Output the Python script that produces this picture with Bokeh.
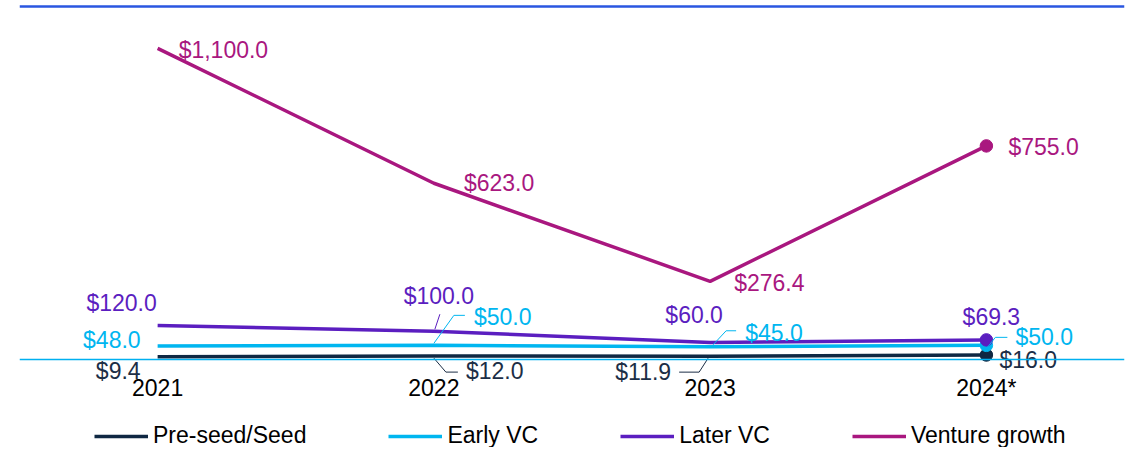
from bokeh.plotting import figure
from bokeh.models import Range1d, FixedTicker, Span, Legend, LegendItem
from bokeh.embed import file_html
from bokeh.resources import INLINE
from bokeh.core.properties import value

# ---------------- data ----------------
years = ["2021", "2022", "2023", "2024*"]
seed = [9.4, 12.0, 11.9, 16.0]
early_vc = [48.0, 50.0, 45.0, 50.0]
later_vc = [120.0, 100.0, 60.0, 69.3]
venture_growth = [1100.0, 623.0, 276.4, 755.0]
series_names = ["Pre-seed/Seed", "Early VC", "Later VC", "Venture growth"]

# ---------------- style ----------------
FONT = "Liberation Sans"
FS = "23px"
colors = ["#0f2843", "#00b6f0", "#5b1ec0", "#a9177f"]
label_colors = ["#1c2e46", "#00b6f0", "#5b1ec0", "#a9177f"]
FRAME_TOP, ZERO_Y, FRAME_BOTTOM = 3, 359, 447   # screen rows
PX_PER_UNIT = 0.2829
FRAME_W = 1105
FRAME_H = FRAME_BOTTOM - FRAME_TOP
Y_END = (ZERO_Y - FRAME_TOP) / PX_PER_UNIT
Y_START = -(FRAME_BOTTOM - ZERO_Y) / PX_PER_UNIT
RULE_Y = (ZERO_Y - 6) / PX_PER_UNIT
XPX = FRAME_W / 4.0
YPX = PX_PER_UNIT
LEGEND_BOTTOM_OFFSET = -2

# label placement per series/point: (dx px, dy px (down), align)
label_pos = [
    [(-17, 14, "right"), (32, 15, "left"), (-39, 16, "right"), (13, 5, "left")],
    [(-17, -6, "right"), (40, -28, "left"), (35, -14, "left"), (29, -8, "left")],
    [(-36, -23, "center"), (5, -35, "center"), (-16, -28, "center"), (5, -23, "center")],
    [(21, 2, "left"), (30, 0, "left"), (24, 2, "left"), (22, 1, "left")],
]
# leader lines: (series index, point index, knees in px offsets)
leaders = [
    (2, 1, [(1, -2), (6, -17)]),
    (1, 1, [(0, -2), (20, -30), (31, -30)]),
    (1, 2, [(3, -2), (16, -16), (26, -16)]),
    (1, 3, [(1, 2), (9, -8), (21, -8)]),
    (0, 1, [(0, 2), (12, 16), (24, 16)]),
    (0, 2, [(-2, 2), (-11, 16), (-31, 16)]),
]

p = figure(frame_width=FRAME_W, frame_height=FRAME_H, output_backend="svg", toolbar_location=None,
           x_range=Range1d(-0.5, 3.5), y_range=Range1d(Y_START, Y_END),
           min_border_left=19, min_border_right=18, min_border_top=FRAME_TOP, min_border_bottom=0)
p.outline_line_color = None
p.grid.visible = False
p.yaxis.visible = False
p.background_fill_color = "white"
p.border_fill_color = "white"

xs = list(range(len(years)))
p.xaxis.fixed_location = 0
p.xaxis.ticker = FixedTicker(ticks=xs)
p.xaxis.major_label_overrides = {i: y for i, y in enumerate(years)}
p.xaxis.major_label_text_font = FONT
p.xaxis.major_label_text_font_size = FS
p.xaxis.major_label_text_color = "#000000"
p.xaxis.major_tick_line_color = None
p.xaxis.minor_tick_line_color = None
p.xaxis.axis_line_color = None
p.xaxis.major_label_standoff = 9

# top blue rule and teal zero line
p.add_layout(Span(location=RULE_Y, dimension="width", line_color="#2a56e0", line_width=2.5))
p.add_layout(Span(location=0, dimension="width", line_color="#00b0f0", line_width=1.5))

all_series = [seed, early_vc, later_vc, venture_growth]
renderers = []
for si, vals in enumerate(all_series):
    r = p.line(xs, vals, line_color=colors[si], line_width=3.5)
    renderers.append(r)

for si, vals in enumerate(all_series):
    p.scatter([xs[-1]], [vals[-1]], size=12.5, fill_color=colors[si], line_color=colors[si])

# leader lines
for si, pi, knees in leaders:
    x0, y0 = xs[pi], all_series[si][pi]
    lx = [x0 + dx / XPX for dx, dy in knees]
    ly = [y0 - dy / YPX for dx, dy in knees]
    p.line(lx, ly, line_color=label_colors[si], line_width=1)

# data labels
for si, vals in enumerate(all_series):
    for pi, v in enumerate(vals):
        dx, dy, align = label_pos[si][pi]
        p.text(x=[xs[pi]], y=[v], text=["${:,.1f}".format(v)], x_offset=dx, y_offset=dy,
               text_align=align, text_baseline="middle", text_font=value(FONT),
               text_font_size=FS, text_color=label_colors[si])

legend = Legend(items=[LegendItem(label=n, renderers=[r]) for n, r in zip(series_names, renderers)],
                orientation="horizontal", location=(94 - 19, LEGEND_BOTTOM_OFFSET),
                label_text_font=FONT, label_text_font_size=FS, label_text_color="#000000",
                glyph_width=54, glyph_height=20, label_standoff=5, spacing=82,
                padding=0, margin=0, border_line_color=None, background_fill_alpha=0)
p.add_layout(legend, "center")

open("out.html", "w").write(file_html(p, INLINE))
